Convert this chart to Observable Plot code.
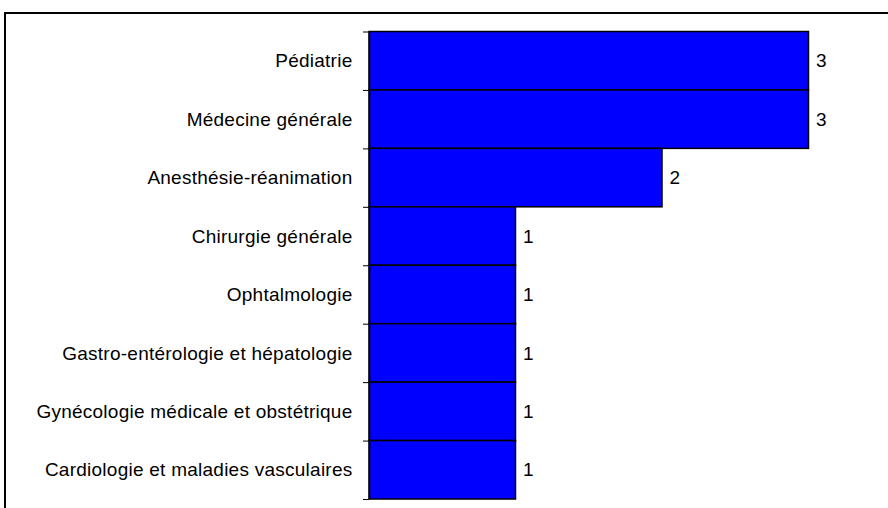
<!DOCTYPE html>
<html><head><meta charset="utf-8">
<script src="https://cdn.jsdelivr.net/npm/d3@7"></script>
<script src="https://cdn.jsdelivr.net/npm/@observablehq/plot@0.6"></script>
<style>
body{margin:0;background:#fff}
#wrap{position:relative;width:888px;height:508px;overflow:hidden}
#frame{position:absolute;left:4px;top:12px;width:1000px;height:1000px;border:2px solid #000;box-sizing:border-box;pointer-events:none}
</style></head><body>
<div id="wrap"><div id="frame"></div></div>
<script>
const categories = [
  "Pédiatrie",
  "Médecine générale",
  "Anesthésie-réanimation",
  "Chirurgie générale",
  "Ophtalmologie",
  "Gastro-entérologie et hépatologie",
  "Gynécologie médicale et obstétrique",
  "Cardiologie et maladies vasculaires"
];
const values = [3, 3, 2, 1, 1, 1, 1, 1];
const data = categories.map((c, i) => ({cat: c, value: values[i], i}));
const chart = Plot.plot({
  width: 888, height: 508,
  marginLeft: 369, marginRight: 79.5, marginTop: 31.5, marginBottom: 9,
  style: {fontFamily: "'Liberation Sans', Arial, sans-serif", fontSize: "19px", letterSpacing: "0.25px", background: "transparent", color: "#000"},
  x: {domain: [0, 3], axis: null},
  y: {domain: [0, categories.length], reverse: true, axis: null},
  marks: [
    Plot.rect(data, {x1: 0, x2: "value", y1: "i", y2: d => d.i + 1, fill: "#0000ff", stroke: "#000", strokeWidth: 1.5}),
    Plot.axisY({ticks: d3.range(categories.length + 1), tickFormat: () => "", tickSize: 6, label: null, stroke: "#000"}),
    Plot.ruleX([0], {stroke: "#000", strokeWidth: 1.5}),
    Plot.text(data, {x: 0, y: d => d.i + 0.5, text: "cat", textAnchor: "end", dx: -17, fill: "#000"}),
    Plot.text(data, {x: "value", y: d => d.i + 0.5, text: d => String(d.value), textAnchor: "start", dx: 7, fill: "#000"})
  ]
});
document.getElementById("wrap").prepend(chart);
</script>
</body></html>
